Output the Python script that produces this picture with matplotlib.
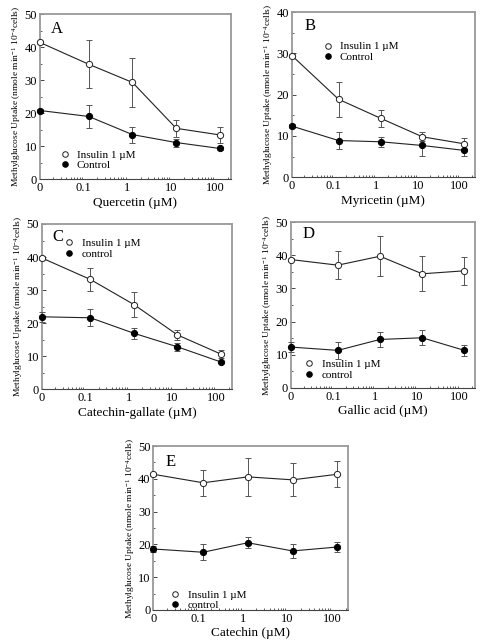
import numpy as np
import matplotlib
matplotlib.use('Agg')
import matplotlib.pyplot as plt
from matplotlib.lines import Line2D
from matplotlib.ticker import LogLocator, FixedLocator, MultipleLocator, NullFormatter

plt.rcParams.update({
    'font.family': ['Liberation Serif', 'DejaVu Serif'],
    'mathtext.fontset': 'custom',
    'mathtext.rm': 'Liberation Serif',
    'mathtext.it': 'Liberation Serif:italic',
})

# ── Data ──────────────────────────────────────────────────────────────────────
conc = np.array([0, 0.13, 1.3, 13, 130])
ZERO_POS = 0.01          # where "0" sits on the log axis

xtick_vals = [0.01, 0.1, 1, 10, 100]
xtick_labels = ['0', '0.1', '1', '10', '100']

a_ins = [41.4, 34.8, 29.3, 15.4, 13.4]
a_ins_err = [0.5, 7.3, 7.3, 2.5, 2.3]
a_ctl = [20.8, 19.0, 13.5, 11.1, 9.3]
a_ctl_err = [0.5, 3.6, 2.4, 1.2, 0.6]

b_ins = [29.5, 18.9, 14.3, 9.8, 8.1]
b_ins_err = [0.4, 4.2, 2.1, 1.1, 1.3]
b_ctl = [12.4, 8.9, 8.6, 7.7, 6.5]
b_ctl_err = [0.4, 2.0, 1.25, 2.6, 1.3]

c_ins = [39.7, 33.2, 25.6, 16.4, 10.6]
c_ins_err = [0.5, 3.5, 3.9, 1.4, 1.2]
c_ctl = [21.9, 21.6, 16.9, 12.8, 8.2]
c_ctl_err = [1.5, 2.6, 1.6, 1.3, 0.4]

d_ins = [38.7, 37.0, 39.7, 34.4, 35.3]
d_ins_err = [0.5, 4.3, 6.0, 5.3, 4.3]
d_ctl = [12.3, 11.3, 14.6, 15.1, 11.3]
d_ctl_err = [1.5, 2.6, 2.2, 2.2, 1.6]

e_ins = [41.4, 38.8, 40.6, 39.7, 41.4]
e_ins_err = [0.5, 4.0, 5.9, 5.0, 4.0]
e_ctl = [18.6, 17.6, 20.5, 18.0, 19.2]
e_ctl_err = [1.0, 2.4, 1.7, 2.2, 1.5]

ylabel = r'Methylglucose Uptake (nmole min$^{-1}$ 10$^{-4}$cells)'

# panel: rect, letter, letter pos, xlabel, ymax, series, ctl label, legend anchor
panels = [
    ([0.082, 0.720, 0.391, 0.258], 'A', (0.087, 0.91), 'Quercetin (µM)', 50,
     (a_ins, a_ins_err, a_ctl, a_ctl_err), 'Control', (0.10, 0.19)),
    ([0.598, 0.723, 0.375, 0.258], 'B', (0.10, 0.917), 'Myricetin (µM)', 40,
     (b_ins, b_ins_err, b_ctl, b_ctl_err), 'Control', (0.165, 0.835)),
    ([0.086, 0.392, 0.389, 0.258], 'C', (0.086, 0.92), 'Catechin-gallate (µM)', 50,
     (c_ins, c_ins_err, c_ctl, c_ctl_err), 'control', (0.115, 0.925)),
    ([0.596, 0.394, 0.377, 0.259], 'D', (0.098, 0.93), 'Gallic acid (µM)', 50,
     (d_ins, d_ins_err, d_ctl, d_ctl_err), 'control', (0.07, 0.185)),
    ([0.314, 0.047, 0.400, 0.256], 'E', (0.087, 0.90), 'Catechin (µM)', 50,
     (e_ins, e_ins_err, e_ctl, e_ctl_err), 'control', (0.085, 0.135)),
]

xpos = np.where(conc == 0, ZERO_POS, conc)

fig = plt.figure(figsize=(4.88, 6.4), dpi=100)

for rect, letter, lpos, xlab, ymax, (ins, ins_e, ctl, ctl_e), ctl_lab, leg_anchor in panels:
    ax = fig.add_axes(rect)
    ax.errorbar(xpos, ins, yerr=ins_e, fmt='-o', color='#222222', mfc='white',
                mec='#222222', ms=4.5, mew=0.7, lw=0.8, ecolor='#555555',
                elinewidth=0.7, capsize=2, capthick=0.7, clip_on=False, zorder=3)
    ax.errorbar(xpos, ctl, yerr=ctl_e, fmt='-o', color='#222222', mfc='black',
                mec='black', ms=4.5, mew=0.7, lw=0.8, ecolor='#555555',
                elinewidth=0.7, capsize=2, capthick=0.7, clip_on=False, zorder=3)

    ax.set_xscale('log')
    ax.set_xlim(0.01, 230)
    ax.set_ylim(0, ymax)
    ax.xaxis.set_major_locator(FixedLocator(xtick_vals))
    ax.set_xticklabels(xtick_labels)
    ax.xaxis.set_minor_locator(LogLocator(base=10, subs=np.arange(2, 10), numticks=20))
    ax.xaxis.set_minor_formatter(NullFormatter())
    ax.yaxis.set_major_locator(MultipleLocator(10))
    ax.yaxis.set_minor_locator(MultipleLocator(5))

    ax.tick_params(which='both', direction='in', labelsize=9, pad=2, color='#444444')
    ax.tick_params(which='major', length=3, width=0.7)
    ax.tick_params(which='minor', length=1.5, width=0.6)
    ax.tick_params(axis='x', which='major', length=0)
    for s in ax.spines.values():
        s.set_color('#999999')
        s.set_linewidth(1.3)
    ax.spines['bottom'].set_color('#444444')
    ax.spines['bottom'].set_linewidth(0.8)

    ax.set_xlabel(xlab, fontsize=9.5, labelpad=2)
    ax.set_ylabel(ylabel, fontsize=6.8, labelpad=1)
    ax.text(lpos[0], lpos[1], letter, transform=ax.transAxes, fontsize=12,
            ha='center', va='center')
    handles = [
        Line2D([], [], ls='none', marker='o', ms=4, mfc='white', mec='#222222', mew=0.7),
        Line2D([], [], ls='none', marker='o', ms=4, mfc='black', mec='black', mew=0.7),
    ]
    ax.legend(handles, ['Insulin 1 µM', ctl_lab], loc='upper left',
              bbox_to_anchor=leg_anchor, frameon=False, fontsize=8,
              handlelength=0.6, handletextpad=0.8, labelspacing=0.05,
              borderpad=0.2, borderaxespad=0)

fig.savefig('out.png', dpi=100)
